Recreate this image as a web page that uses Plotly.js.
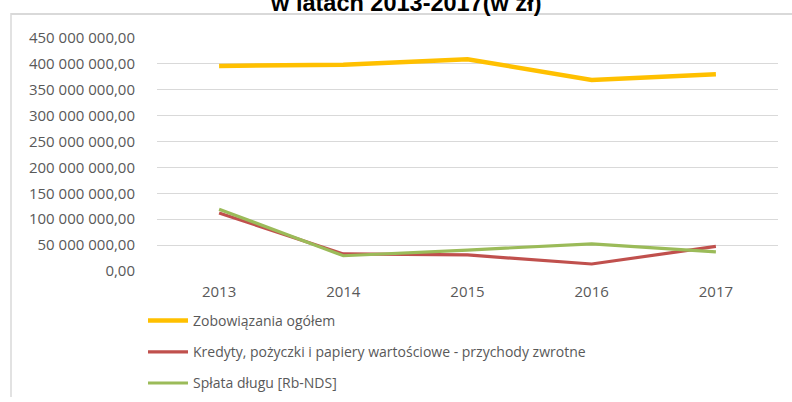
<!DOCTYPE html>
<html>
<head>
<meta charset="utf-8">
<script src="https://cdn.plot.ly/plotly-3.0.1.min.js"></script>
<style>html,body{margin:0;padding:0;background:#fff;}#chart{width:792px;height:402px;}</style>
</head>
<body>
<div id="chart"></div>
<script>
const titleText = 'w latach 2013-2017(w zł)';
const years = ['2013', '2014', '2015', '2016', '2017'];
const seriesNames = [
  'Zobowiązania ogółem',
  'Kredyty, pożyczki i papiery wartościowe - przychody zwrotne',
  'Spłata długu [Rb-NDS]'
];
const zobowiazania = [396000000, 398500000, 409000000, 369000000, 380000000];
const kredyty = [112000000, 33000000, 31000000, 13500000, 47500000];
const splata = [119500000, 29500000, 40500000, 52500000, 37000000];
const yTickVals = [0, 50000000, 100000000, 150000000, 200000000, 250000000, 300000000, 350000000, 400000000, 450000000];
const yTickLabels = ['0,00', '50 000 000,00', '100 000 000,00', '150 000 000,00', '200 000 000,00',
  '250 000 000,00', '300 000 000,00', '350 000 000,00', '400 000 000,00', '450 000 000,00'];

const colors = ['#FFC000', '#C0504D', '#9BBB59'];
const widths = [4.5, 3.2, 3.2];
const values = [zobowiazania, kredyty, splata];

const traces = values.map((v, i) => ({
  type: 'scatter',
  mode: 'lines',
  x: years,
  y: v,
  name: seriesNames[i],
  legendgroup: 'g' + i,
  line: {color: colors[i], width: widths[i]},
  hoverinfo: 'skip'
}));

const textColor = '#595959';
const font = "'Open Sans', 'Noto Sans', sans-serif";

const layout = {
  width: 792,
  height: 402,
  margin: {l: 157, r: 14, t: 38, b: 131, pad: 0, autoexpand: false},
  paper_bgcolor: '#ffffff',
  plot_bgcolor: '#ffffff',
  font: {family: font, size: 14, color: textColor},
  title: {
    text: titleText,
    font: {family: "'Liberation Sans', Arial, sans-serif", size: 23.5, color: '#000000', weight: 'bold'},
    xref: 'container', yref: 'container',
    x: 0.513, xanchor: 'center',
    y: 0.9925, yanchor: 'middle',
    automargin: false
  },
  xaxis: {
    type: 'category',
    range: [-0.5, 4.5],
    showgrid: false,
    zeroline: false,
    showline: false,
    automargin: false,
    ticks: 'outside', ticklen: 7, tickcolor: 'rgba(0,0,0,0)',
    tickfont: {family: font, size: 15, color: textColor},
    fixedrange: true
  },
  yaxis: {
    range: [0, 450000000],
    tickmode: 'array',
    tickvals: yTickVals,
    ticktext: yTickLabels,
    showgrid: true,
    gridcolor: '#d9d9d9',
    gridwidth: 1,
    zeroline: false,
    showline: false,
    automargin: false,
    ticks: 'outside', ticklen: 18, tickcolor: 'rgba(0,0,0,0)',
    tickfont: {family: font, size: 15, color: textColor},
    fixedrange: true
  },
  showlegend: true,
  legend: {
    orientation: 'v',
    xref: 'container', yref: 'container',
    x: 143 / 792, xanchor: 'left',
    y: 1 - 305 / 402, yanchor: 'top',
    traceorder: 'grouped',
    tracegroupgap: 10,
    itemwidth: 40,
    bgcolor: 'rgba(0,0,0,0)',
    borderwidth: 0,
    font: {family: font, size: 14, color: textColor}
  },
  shapes: [
    {type: 'line', xref: 'paper', yref: 'paper', x0: (11 - 157) / 621, x1: (800 - 157) / 621,
      y0: (271 - 14) / 233, y1: (271 - 14) / 233, line: {color: '#d9d9d9', width: 2}},
    {type: 'line', xref: 'paper', yref: 'paper', x0: (11 - 157) / 621, x1: (11 - 157) / 621,
      y0: (271 - 13) / 233, y1: (271 - 397) / 233, line: {color: '#d9d9d9', width: 1.5}}
  ]
};

Plotly.newPlot('chart', traces, layout, {staticPlot: true, displayModeBar: false});
</script>
</body>
</html>
